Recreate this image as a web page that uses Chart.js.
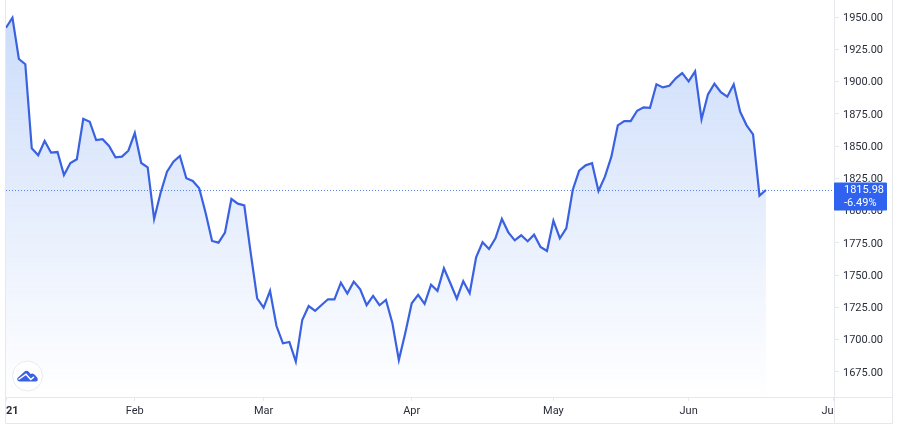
<!DOCTYPE html>
<html>
<head>
<meta charset="utf-8">
<script src="https://cdn.jsdelivr.net/npm/chart.js@4/dist/chart.umd.min.js"></script>
<style>
html, body { margin: 0; padding: 0; background: #fff; }
#wrap { width: 900px; height: 428px; }
</style>
</head>
<body>
<div id="wrap"><canvas id="goldChart" width="900" height="428"></canvas></div>
<script>
var prices = [
    1941.7, 1949.5, 1917.5, 1913.4, 1848.3, 1842.9, 1853.9, 1844.9, 1845.4, 1827.6,
    1836.9, 1839.8, 1871.2, 1868.9, 1854.7, 1855.3, 1850.1, 1841.3, 1841.8, 1846.4,
    1860.1, 1836.9, 1833.6, 1793.5, 1813.7, 1830.2, 1837.9, 1842.3, 1825.1, 1823.0,
    1817.3, 1798.2, 1776.5, 1775.2, 1782.9, 1809.0, 1805.4, 1804.1, 1767.0, 1732.1,
    1724.8, 1737.8, 1710.6, 1697.2, 1698.2, 1683.0, 1715.3, 1726.1, 1722.3, 1726.9,
    1731.3, 1731.3, 1744.2, 1735.7, 1745.0, 1739.1, 1726.7, 1733.9, 1726.7, 1730.8,
    1712.7, 1684.3, 1705.2, 1728.2, 1734.7, 1727.7, 1742.6, 1737.8, 1755.3, 1743.7,
    1731.8, 1745.3, 1736.0, 1763.9, 1775.5, 1770.3, 1778.6, 1793.5, 1783.2, 1777.0,
    1780.9, 1776.3, 1781.4, 1771.8, 1768.7, 1792.2, 1778.6, 1786.3, 1816.0, 1830.9,
    1835.1, 1836.7, 1815.2, 1826.3, 1841.8, 1866.1, 1869.4, 1869.4, 1877.4, 1880.0,
    1879.7, 1897.9, 1895.5, 1896.8, 1902.5, 1906.6, 1900.2, 1907.9, 1870.8, 1890.1,
    1898.3, 1891.7, 1888.3, 1897.9, 1876.6, 1866.1, 1859.1, 1811.6, 1815.98
];
var yTicks = [1675, 1700, 1725, 1750, 1775, 1800, 1825, 1850, 1875, 1900, 1925, 1950];
var xTickBars = [0, 20, 40, 63, 85, 106, 128.5];
var xTickNames = ['21', 'Feb', 'Mar', 'Apr', 'May', 'Jun', 'Ju'];
var lastPrice = 1815.98;
var lastChange = '-6.49%';

var LINE_BLUE = '#3a62e0';
var GRID = '#e6e8ee';
var FONT = 'Roboto';

// axis frame, dotted last-price line, price badge and logo
var decorations = {
    id: 'decorations',
    beforeDatasetsDraw: function (chart) {
        var c = chart.ctx, a = chart.chartArea, y = chart.scales.y.getPixelForValue(lastPrice);
        c.save();
        c.strokeStyle = 'rgba(58,98,224,0.8)';
        c.lineWidth = 1;
        c.setLineDash([1, 2]);
        c.beginPath();
        c.moveTo(a.left, y + 0.5);
        c.lineTo(a.right, y + 0.5);
        c.stroke();
        c.restore();
    },
    afterDraw: function (chart) {
        var c = chart.ctx, a = chart.chartArea, y = chart.scales.y.getPixelForValue(lastPrice);
        c.save();
        c.strokeStyle = GRID;
        c.lineWidth = 1;
        c.beginPath();
        c.moveTo(5.5, 0); c.lineTo(5.5, 423.5);
        c.moveTo(5.5, 423.5); c.lineTo(892.5, 423.5);
        c.moveTo(892.5, 0); c.lineTo(892.5, 423.5);
        c.moveTo(5.5, a.bottom + 0.5); c.lineTo(892.5, a.bottom + 0.5);
        c.moveTo(a.right + 0.5, 0); c.lineTo(a.right + 0.5, 423.5);
        c.stroke();

        // badge
        c.fillStyle = '#2f62ee';
        c.beginPath();
        c.roundRect(a.right, y - 7.5, 53, 28, 1);
        c.fill();
        c.fillStyle = '#ffffff';
        c.font = '11px ' + FONT;
        c.textAlign = 'left';
        c.textBaseline = 'middle';
        c.fillText(lastPrice.toFixed(2), 844, y + 0.5);
        c.fillText(lastChange, 844, y + 13);

        // logo
        c.fillStyle = '#ffffff';
        c.strokeStyle = '#e8eaf0';
        c.beginPath();
        c.arc(27.5, 376, 15, 0, Math.PI * 2);
        c.fill();
        c.stroke();
        c.fillStyle = '#3a62e0';
        c.beginPath();
        c.moveTo(17.5, 378);
        c.lineTo(24, 372);
        c.quadraticCurveTo(26.5, 369.5, 29, 372);
        c.lineTo(30.5, 374);
        c.quadraticCurveTo(33, 372.5, 35, 375);
        c.lineTo(37.5, 378);
        c.quadraticCurveTo(38.5, 381.5, 35.5, 381.5);
        c.lineTo(19.5, 381.5);
        c.quadraticCurveTo(16.5, 381, 17.5, 378);
        c.closePath();
        c.fill();
        c.strokeStyle = '#ffffff';
        c.lineWidth = 1.5;
        c.beginPath();
        c.moveTo(18.5, 379.5);
        c.lineTo(26, 374.2);
        c.lineTo(30.7, 379.5);
        c.lineTo(34, 376.8);
        c.stroke();
        c.restore();
    }
};

var ctx = document.getElementById('goldChart');
var goldChart = new Chart(ctx, {
    type: 'line',
    data: {
        datasets: [{
            data: prices.map(function (p, i) { return { x: i, y: p }; }),
            borderColor: LINE_BLUE,
            borderWidth: 2.2,
            pointRadius: 0,
            tension: 0,
            fill: 'start',
            backgroundColor: function (context) {
                var area = context.chart.chartArea;
                if (!area) return 'rgba(41,98,255,0.2)';
                var g = context.chart.ctx.createLinearGradient(0, 17, 0, area.bottom);
                g.addColorStop(0, 'rgba(41,110,235,0.24)');
                g.addColorStop(1, 'rgba(41,110,235,0)');
                return g;
            }
        }]
    },
    plugins: [decorations],
    options: {
        responsive: false,
        animation: false,
        layout: { padding: { left: 6, top: 0, right: 8, bottom: 4 } },
        plugins: { legend: { display: false }, tooltip: { enabled: false } },
        scales: {
            x: {
                type: 'linear',
                min: 0,
                max: 128.57,
                afterBuildTicks: function (axis) {
                    axis.ticks = xTickBars.map(function (v) { return { value: v }; });
                },
                afterFit: function (axis) {
                    axis.height = 27;
                    axis.paddingLeft = 0;
                    axis.paddingRight = 0;
                },
                grid: { drawOnChartArea: false, drawTicks: true, tickLength: 4, color: GRID },
                border: { display: false },
                ticks: {
                    autoSkip: false,
                    maxRotation: 0,
                    align: 'inner',
                    padding: 4,
                    color: '#2a2e39',
                    font: function (context) {
                        return { family: FONT, size: 11, weight: context.index === 0 ? 'bold' : 'normal' };
                    },
                    callback: function (value) {
                        return xTickNames[xTickBars.indexOf(value)];
                    }
                }
            },
            y: {
                position: 'right',
                min: 1655.6,
                max: 1963.2,
                afterBuildTicks: function (axis) {
                    axis.ticks = yTicks.map(function (v) { return { value: v }; });
                },
                afterFit: function (axis) {
                    axis.width = 58;
                    axis.paddingTop = 0;
                    axis.paddingBottom = 0;
                },
                grid: { drawOnChartArea: false, drawTicks: true, tickLength: 5, color: GRID },
                border: { display: false },
                ticks: {
                    padding: 4,
                    labelOffset: 1,
                    color: '#2a2e39',
                    font: { family: FONT, size: 11 },
                    callback: function (value) { return value.toFixed(2); }
                }
            }
        }
    }
});
</script>
</body>
</html>
